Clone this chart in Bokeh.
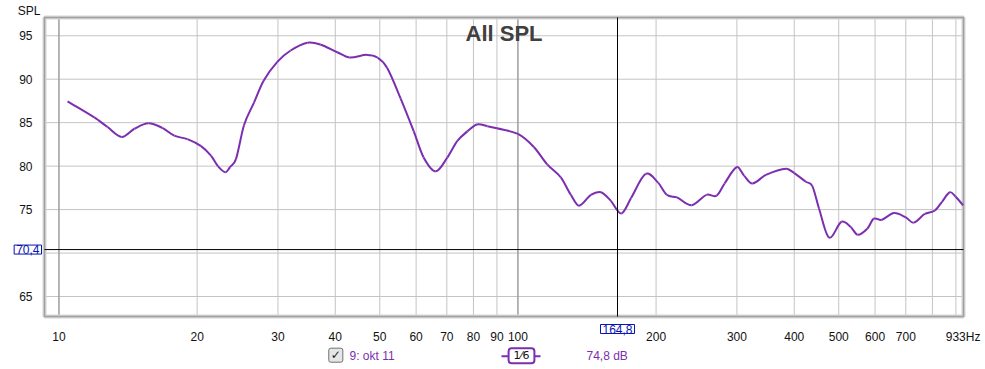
import math
from bokeh.plotting import figure
from bokeh.models import Label, FixedTicker, Range1d
from bokeh.embed import file_html
from bokeh.resources import INLINE

# ---------------- data ----------------
freq_hz = [10.44, 11.94, 12.76, 13.7, 14.6, 15.66, 16.8, 17.84, 19.05, 20.4,
           21.44, 22.2, 23.06, 23.6, 24.3, 25.3, 26.6, 27.9, 29.9, 31.97,
           34.75, 37.1, 40.4, 42.9, 46.9, 49.4, 51.9, 55.5, 59.3, 62.3,
           66.2, 70.2, 73.8, 77.6, 81.4, 85.8, 90.0, 100.0, 108.3, 115.8,
           124.0, 130.4, 135.8, 144.2, 151.8, 159.4, 168.0, 176.3, 189.8, 202.0,
           211.0, 222.0, 239.0, 257.6, 271.0, 282.0, 300.0, 311.0, 324.0, 347.0,
           384.0, 400.0, 424.0, 438.0, 453.0, 476.0, 507.0, 531.0, 550.0, 577.0,
           596.0, 619.0, 660.0, 700.0, 728.0, 770.0, 810.0, 839.5, 873.0, 898.0,
           933.0]
spl_db = [87.45, 85.6, 84.5, 83.36, 84.3, 84.93, 84.4, 83.5, 83.1, 82.3,
          81.2, 80.0, 79.3, 79.9, 80.8, 84.7, 87.3, 89.8, 92.0, 93.3,
          94.2, 94.0, 93.1, 92.5, 92.8, 92.5, 91.3, 87.8, 84.0, 81.0,
          79.4, 81.0, 82.9, 84.0, 84.8, 84.6, 84.35, 83.7, 82.2, 80.2,
          78.7, 76.7, 75.45, 76.7, 77.0, 76.0, 74.55, 76.3, 79.1, 78.1,
          76.7, 76.4, 75.5, 76.7, 76.6, 78.0, 79.9, 78.9, 78.0, 79.0,
          79.7, 79.2, 78.2, 77.7, 75.1, 71.8, 73.6, 73.0, 72.1, 72.8,
          73.95, 73.8, 74.6, 74.1, 73.5, 74.5, 74.9, 75.9, 77.0, 76.5,
          75.5]

x_tick_values = [10, 20, 30, 40, 50, 60, 70, 80, 90, 100, 200, 300, 400, 500, 600, 700, 933]
x_tick_labels = ["10", "20", "30", "40", "50", "60", "70", "80", "90", "100",
                 "200", "300", "400", "500", "600", "700", "933Hz"]
x_grid_values = [10, 20, 30, 40, 50, 60, 70, 80, 90, 100, 200, 300, 400, 500, 600, 700, 800, 900]
decade_values = [10, 100]
y_tick_values = [65, 75, 80, 85, 90, 95]
y_grid_values = [65, 70, 75, 80, 85, 90, 95]

cursor_freq = 164.8
cursor_spl = 70.4
cursor_freq_text = "164,8"
cursor_spl_text = "70,4"
readout_text = "74,8 dB"
series_name = "9: okt 11"
smoothing_text = "1\u20446"
chart_title = "All SPL"
y_title = "SPL"

CURVE = "#7b2fb0"
FONT = "Liberation Sans"
BLUE = "#0a14b4"

# plot box (data limits) and where it sits on the page
X0, X1 = 9.3, 935.0
Y0, Y1 = 62.7, 97.1
W, H = 985, 369
FL, FR, FT, FB = 44, 963, 17, 316

LA, LB = math.log10(X0), math.log10(X1)
KX = (LB - LA) / (FR - FL)
KY = (Y1 - Y0) / (FB - FT)


def fx(px):
    """page pixel -> Hz"""
    return 10 ** (LA + (px - FL) * KX)


def fy(py):
    """page pixel -> dB"""
    return Y1 - (py - FT) * KY


# ---------------- figure (frame = whole canvas, so texts outside the box are not clipped) ----
p = figure(width=W, height=H, x_axis_type="log",
           x_range=Range1d(fx(0), fx(W)), y_range=Range1d(fy(H), fy(0)),
           output_backend="svg", toolbar_location=None,
           min_border=0, min_border_left=0, min_border_right=0,
           min_border_top=0, min_border_bottom=0)
p.background_fill_color = "white"
p.border_fill_color = "white"
p.outline_line_color = None
p.xgrid.visible = False
p.ygrid.visible = False

# axes pinned to the plot box edges
p.xaxis.fixed_location = Y0
p.yaxis.fixed_location = X0
p.xaxis.ticker = FixedTicker(ticks=x_tick_values, minor_ticks=[])
p.xaxis.major_label_overrides = {v: s for v, s in zip(x_tick_values, x_tick_labels)}
p.yaxis.ticker = FixedTicker(ticks=y_tick_values, minor_ticks=[])
for ax in (p.xaxis, p.yaxis):
    ax.axis_line_color = None
    ax.major_tick_line_color = None
    ax.minor_tick_line_color = None
    ax.major_label_text_font = FONT
    ax.major_label_text_font_size = "12px"
    ax.major_label_text_color = "#111111"
p.xaxis.major_label_standoff = 7
p.yaxis.major_label_standoff = 6

# grid lines inside the box
p.segment(x0=x_grid_values, y0=[Y0] * len(x_grid_values),
          x1=x_grid_values, y1=[Y1] * len(x_grid_values),
          line_color="#c4c4c4", line_width=1)
p.segment(x0=[X0] * len(y_grid_values), y0=y_grid_values,
          x1=[X1] * len(y_grid_values), y1=y_grid_values,
          line_color="#c4c4c4", line_width=1)
p.segment(x0=decade_values, y0=[Y0] * len(decade_values),
          x1=decade_values, y1=[Y1] * len(decade_values),
          line_color="#8a8a8a", line_width=1)

# box with soft shadow
p.quad(left=[X0], right=[X1], bottom=[Y0], top=[Y1], fill_color=None,
       line_color="#d6d6d6", line_width=4)
p.quad(left=[X0], right=[X1], bottom=[Y0], top=[Y1], fill_color=None,
       line_color="#a0a0a0", line_width=1.5)

# curve: smooth cubic Hermite (Bezier) segments through the read points, in log-f space
lx = [math.log10(f) for f in freq_hz]
n = len(lx)
slopes = []
for i in range(n):
    i0, i1 = max(i - 1, 0), min(i + 1, n - 1)
    slopes.append((spl_db[i1] - spl_db[i0]) / (lx[i1] - lx[i0]))
bx0, by0, bx1, by1, c0x, c0y, c1x, c1y = [], [], [], [], [], [], [], []
for i in range(n - 1):
    h = lx[i + 1] - lx[i]
    bx0.append(freq_hz[i]); by0.append(spl_db[i])
    bx1.append(freq_hz[i + 1]); by1.append(spl_db[i + 1])
    c0x.append(10 ** (lx[i] + h / 3)); c0y.append(spl_db[i] + slopes[i] * h / 3)
    c1x.append(10 ** (lx[i + 1] - h / 3)); c1y.append(spl_db[i + 1] - slopes[i + 1] * h / 3)
p.bezier(x0=bx0, y0=by0, x1=bx1, y1=by1, cx0=c0x, cy0=c0y, cx1=c1x, cy1=c1y,
         line_color=CURVE, line_width=2)

# cursor cross-hair
p.segment(x0=[cursor_freq], y0=[Y0], x1=[cursor_freq], y1=[Y1], line_color="black", line_width=1)
p.segment(x0=[X0], y0=[cursor_spl], x1=[X1], y1=[cursor_spl], line_color="black", line_width=1)

p.add_layout(Label(x=fx(41), y=cursor_spl,
                   text=cursor_spl_text, text_align="right", text_baseline="middle",
                   text_font=FONT, text_font_size="12px", text_color=BLUE,
                   border_line_color=BLUE, border_line_width=1,
                   background_fill_color="white", padding=(2, 0)))
p.add_layout(Label(x=cursor_freq, y=fy(328.5),
                   text=cursor_freq_text, text_align="center", text_baseline="middle",
                   text_font=FONT, text_font_size="12px", text_color=BLUE,
                   border_line_color=BLUE, border_line_width=1,
                   background_fill_color="white", padding=(2, 0)))

# title inside the box
p.add_layout(Label(x=fx(503.5), y=fy(33.3), text=chart_title, text_align="center",
                   text_baseline="middle", text_font=FONT, text_font_size="22px",
                   text_font_style="bold", text_color="#404040"))

# y title
p.add_layout(Label(x=fx(28.5), y=fy(10), text=y_title,
                   text_align="center", text_baseline="middle", text_font=FONT,
                   text_font_size="12px", text_color="#111111"))

# legend row
p.add_layout(Label(x=fx(335.3), y=fy(354.7), text="\u2713",
                   text_align="center", text_baseline="middle", text_font="DejaVu Sans",
                   text_font_size="12px", text_font_style="bold", text_color="#222222",
                   border_line_color="#707070", border_line_width=1, border_radius=2,
                   background_fill_color="#e6e6e6", padding=(2, 0)))
p.add_layout(Label(x=fx(349), y=fy(355), text=series_name,
                   text_align="left", text_baseline="middle", text_font=FONT,
                   text_font_size="12px", text_color=CURVE))
p.segment(x0=[fx(501)], y0=[fy(355.7)], x1=[fx(540)], y1=[fy(355.7)],
          line_color=CURVE, line_width=2)
p.add_layout(Label(x=fx(521), y=fy(355.3), text=smoothing_text,
                   text_align="center", text_baseline="middle", text_font="DejaVu Sans",
                   text_font_size="11px", text_color="#111111",
                   border_line_color=CURVE, border_line_width=2, border_radius=3,
                   background_fill_color="white", padding=(5, 1)))
p.add_layout(Label(x=fx(586), y=fy(355), text=readout_text,
                   text_align="left", text_baseline="middle", text_font=FONT,
                   text_font_size="12px", text_color=CURVE))

open("out.html", "w").write(file_html(p, INLINE))
